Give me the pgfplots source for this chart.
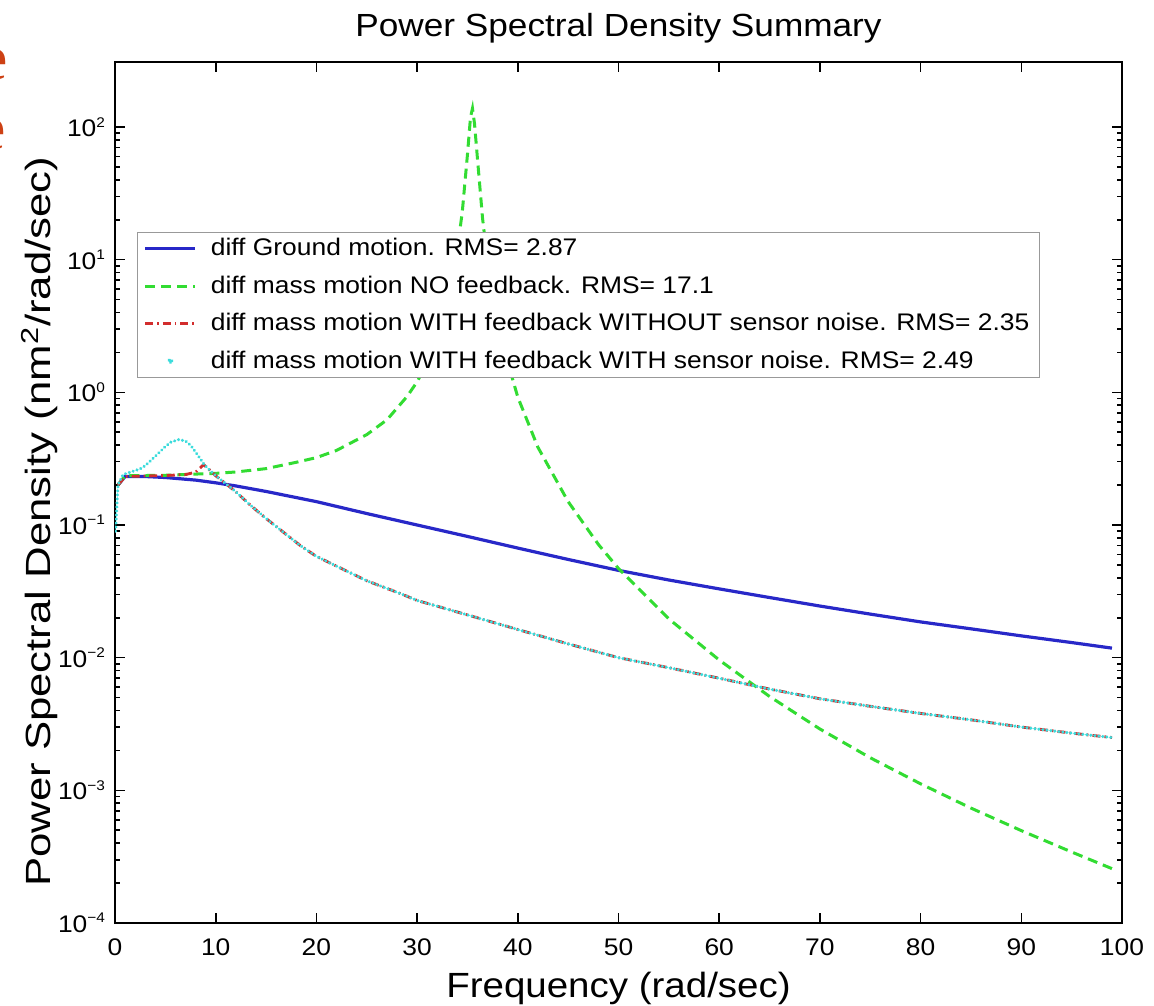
\documentclass[border=0pt]{standalone}
\usepackage{fontspec}
\setmainfont{Liberation Sans}[FakeStretch=1.1]
\newfontfamily\ylabfont{Liberation Sans}[FakeStretch=1.25]
\newfontfamily\serifletters{Liberation Serif}
\usepackage{pgfplots}
\pgfplotsset{compat=1.18}
\definecolor{bluec}{RGB}{40,40,200}
\definecolor{greenc}{RGB}{50,220,50}
\definecolor{redc}{RGB}{210,45,45}
\definecolor{cyanc}{RGB}{60,220,220}
\definecolor{orangec}{RGB}{205,65,20}
\newcommand{\smallsup}[1]{\raisebox{0.75ex}{\fontsize{7}{7}\selectfont #1}}
\begin{document}
\begin{tikzpicture}
\begin{axis}[
  scale only axis,
  width=503.5pt, height=430.5pt,
  ymode=log,
  xmin=0, xmax=100,
  ymin=1e-4, ymax=309,
  xtick={0,10,...,100},
  ytick={1e-4,1e-3,1e-2,1e-1,1,10,100},
  yticklabels={10\smallsup{−4},10\smallsup{−3},10\smallsup{−2},10\smallsup{−1},10\smallsup{0},10\smallsup{1},10\smallsup{2}},
  /pgf/number format/assume math mode=true,
  tick label style={font=\fontsize{12}{12}\selectfont},
  xticklabel style={anchor=base, yshift=-16pt},
  yticklabel style={anchor=east, xshift=-1.5pt},
  major tick length=5pt,
  minor tick length=2.5pt,
  tick style={black, line width=0.8pt},
  axis line style={line width=1pt},
  title={Power Spectral Density Summary},
  title style={at={(axis description cs:0.5,1.03)}, anchor=base, yshift=-6pt, font=\fontsize{16}{16}\selectfont},
  xlabel={Frequency (rad/sec)},
  xlabel style={at={(axis description cs:0.5,-0.087)}, anchor=base, font=\fontsize{17.5}{17.5}\selectfont},
  ylabel={Power Spectral Density (nm\textsuperscript{2}/rad/sec)},
  ylabel style={at={(axis description cs:-0.075,0.466)}, anchor=center, font=\fontsize{17.5}{17.5}\ylabfont},
  legend cell align=left,
  legend style={at={(axis description cs:0.0218,0.8026)}, anchor=north west,
    draw=gray!80, line width=0.6pt, fill=white, column sep=5pt,
    font=\fontsize{12}{15}\selectfont, inner xsep=3pt, inner ysep=1pt, row sep=4.5pt},
  legend image code/.code={\draw[#1] (0cm,0cm) -- (0.88cm,0cm);},
]
\addplot[bluec, line width=1.6pt] coordinates {
(0.3,0.20) (1,0.232) (3,0.232) (5,0.228) (8,0.218) (10,0.208) (12,0.197) (15,0.179)
(20,0.150) (25,0.122) (30,0.100) (35,0.082) (40,0.067) (45,0.055) (50,0.0455)
(55,0.0385) (60,0.033) (65,0.0284) (70,0.0245) (75,0.0213) (80,0.0186) (85,0.0165)
(90,0.0146) (95,0.0130) (99,0.0118)
};
\addlegendentry{diff Ground motion. RMS= 2.87}
\addplot[greenc, line width=1.5pt, dash pattern=on 5pt off 3pt] coordinates {
(0.3,0.20) (1,0.235) (3,0.236) (5,0.237) (8,0.242) (10,0.245) (12,0.251) (15,0.266)
(18,0.297) (20,0.322) (22,0.365) (25,0.48) (27,0.62) (29,0.93) (30,1.2) (31,1.68)
(32,2.66) (33,4.7) (34,11.8) (34.5,23.5) (35,62) (35.3,118) (35.5,138) (35.7,106)
(36,57) (36.5,20.5) (37,9.6) (38,3.4) (39,1.68) (40,0.92) (42,0.385) (45,0.15)
(48,0.0714) (50,0.047) (55,0.0196) (60,0.0096) (65,0.0051) (70,0.0029) (75,0.00176)
(80,0.00112) (85,0.000735) (90,0.000497) (95,0.000343) (99,0.000257)
};
\addlegendentry{diff mass motion NO feedback. RMS= 17.1}
\addplot[redc, line width=1.4pt, dash pattern=on 4pt off 2pt on 0.8pt off 2pt] coordinates {
(0.3,0.20) (1,0.232) (3,0.234) (5,0.236) (7,0.24) (8,0.25) (8.8,0.285) (9.2,0.268)
(10,0.235) (11,0.205) (12,0.178) (13.4,0.142) (15,0.112) (18.4,0.07) (20,0.058)
(25,0.038) (28.3,0.0305) (30,0.027) (35,0.021) (40,0.0163) (45,0.0127) (50,0.0100)
(55,0.0084) (60,0.0070) (65,0.0058) (70,0.0049) (75,0.0043) (80,0.0038) (85,0.0034)
(90,0.0030) (95,0.0027) (99,0.0025)
};
\addlegendentry{diff mass motion WITH feedback WITHOUT sensor noise. RMS= 2.35}
\addplot[cyanc, line width=1.7pt, line cap=round, dash pattern=on 0.01pt off 2pt,
  legend image code/.code={\fill[cyanc] (0.44cm,0cm) circle (0.9pt);}] coordinates {
(0.05,0.09) (0.3,0.2) (0.8,0.24) (1.5,0.25) (2.5,0.265) (3,0.28) (4,0.33) (5,0.39)
(5.5,0.42) (6.3,0.44) (7,0.43) (7.5,0.4) (8,0.355) (8.8,0.29) (9.2,0.268)
(10,0.235) (11,0.205) (12,0.178) (13.4,0.142) (15,0.112) (18.4,0.07) (20,0.058)
(25,0.038) (28.3,0.0305) (30,0.027) (35,0.021) (40,0.0163) (45,0.0127) (50,0.0100)
(55,0.0084) (60,0.0070) (65,0.0058) (70,0.0049) (75,0.0043) (80,0.0038) (85,0.0034)
(90,0.0030) (95,0.0027) (99,0.0025)
};
\addlegendentry{diff mass motion WITH feedback WITH sensor noise. RMS= 2.49}
\end{axis}
\node[anchor=base east, inner sep=0pt, text=orangec, font=\fontsize{32}{32}\selectfont\serifletters] at (-53.5pt,421.5pt) {e};
\node[anchor=base east, inner sep=0pt, text=orangec, font=\fontsize{32}{32}\selectfont\serifletters] at (-54.5pt,386.5pt) {e};
\pgfresetboundingbox
\useasboundingbox (-57.5pt,-41pt) rectangle (519.5pt,461.5pt);
\end{tikzpicture}
\end{document}
